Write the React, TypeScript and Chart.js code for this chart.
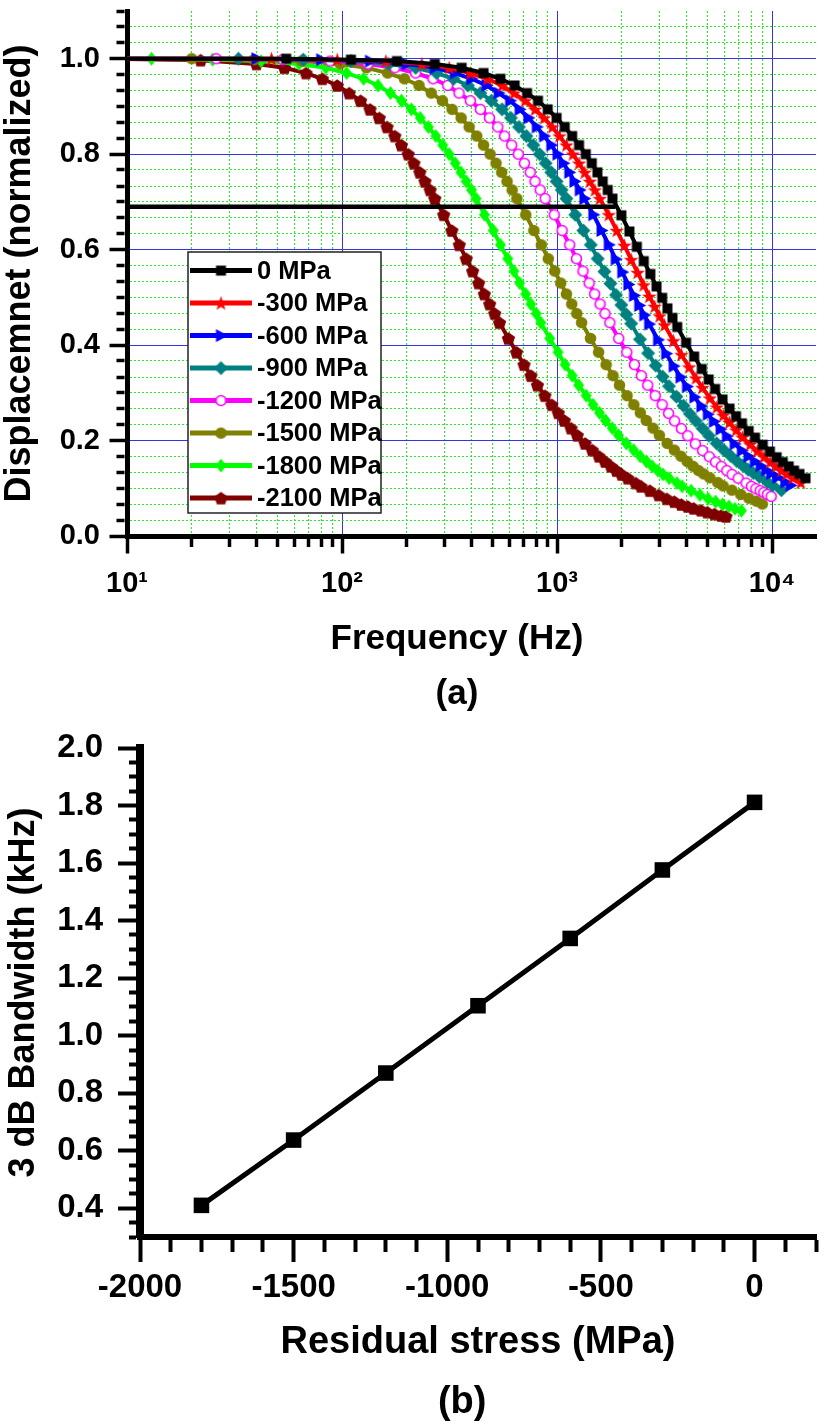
import React, { useEffect, useRef } from 'react';
import { Chart, registerables } from 'chart.js';

Chart.register(...registerables);

// ---------- (a) normalized displacement vs frequency, one curve per residual stress
const STRESS_LABELS = ['0 MPa', '-300 MPa', '-600 MPa', '-900 MPa', '-1200 MPa', '-1500 MPa', '-1800 MPa', '-2100 MPa'];

const FREQ_0 = [8, 55, 110, 180, 270, 360, 455, 545, 635, 725, 815, 905, 995, 1085, 1175, 1265, 1360, 1450, 1540, 1630, 1720, 1810, 1990, 2170, 2350, 2530, 2715, 2900, 3080, 3260, 3440, 3620, 3980, 4340, 4710, 5070, 5430, 5880, 6340, 6790, 7240, 7780, 8330, 9050, 9770, 10500, 11200, 11950, 12650, 13400, 14300];
const DISP_0 = [1.0, 1.0, 0.998, 0.995, 0.989, 0.981, 0.970, 0.958, 0.944, 0.928, 0.912, 0.894, 0.876, 0.857, 0.838, 0.819, 0.800, 0.781, 0.762, 0.743, 0.725, 0.707, 0.672, 0.638, 0.606, 0.576, 0.549, 0.523, 0.499, 0.477, 0.457, 0.438, 0.405, 0.376, 0.350, 0.328, 0.308, 0.286, 0.267, 0.251, 0.236, 0.220, 0.206, 0.191, 0.177, 0.165, 0.155, 0.146, 0.137, 0.130, 0.121];

const FREQ_300 = [8, 47, 95, 160, 235, 315, 395, 475, 555, 630, 710, 790, 870, 950, 1025, 1105, 1185, 1265, 1345, 1420, 1500, 1580, 1740, 1895, 2055, 2210, 2370, 2530, 2685, 2845, 3000, 3160, 3475, 3790, 4110, 4425, 4740, 5135, 5530, 5925, 6320, 6795, 7270, 7900, 8530, 9165, 9795, 10430, 11060, 11690, 12480, 13590];
const DISP_300 = [1.0, 1.0, 0.998, 0.995, 0.989, 0.981, 0.970, 0.958, 0.944, 0.928, 0.912, 0.894, 0.876, 0.857, 0.838, 0.819, 0.800, 0.781, 0.762, 0.743, 0.725, 0.707, 0.673, 0.640, 0.609, 0.579, 0.552, 0.526, 0.502, 0.481, 0.461, 0.442, 0.409, 0.380, 0.354, 0.331, 0.311, 0.289, 0.270, 0.253, 0.238, 0.222, 0.207, 0.192, 0.178, 0.166, 0.155, 0.146, 0.137, 0.130, 0.122, 0.112];

const FREQ_600 = [8, 40, 80, 135, 200, 270, 335, 400, 470, 535, 605, 670, 735, 805, 870, 940, 1005, 1070, 1140, 1205, 1275, 1340, 1475, 1610, 1740, 1875, 2010, 2145, 2280, 2410, 2545, 2680, 2950, 3215, 3485, 3750, 4020, 4355, 4690, 5025, 5360, 5760, 6165, 6700, 7235, 7770, 8310, 8845, 9380, 9915, 10590, 11525, 12190];
const DISP_600 = [1.0, 1.0, 0.998, 0.995, 0.989, 0.981, 0.970, 0.958, 0.944, 0.928, 0.912, 0.894, 0.876, 0.857, 0.838, 0.819, 0.800, 0.781, 0.762, 0.743, 0.725, 0.707, 0.673, 0.640, 0.610, 0.580, 0.553, 0.527, 0.504, 0.483, 0.463, 0.444, 0.411, 0.382, 0.356, 0.333, 0.313, 0.291, 0.272, 0.255, 0.240, 0.224, 0.209, 0.193, 0.179, 0.167, 0.156, 0.147, 0.138, 0.131, 0.123, 0.113, 0.106];

const FREQ_900 = [8, 33, 66, 110, 165, 220, 275, 330, 385, 440, 495, 555, 610, 665, 720, 775, 830, 885, 940, 995, 1050, 1105, 1215, 1325, 1435, 1545, 1660, 1770, 1880, 1990, 2100, 2210, 2430, 2650, 2875, 3095, 3315, 3590, 3870, 4145, 4420, 4750, 5085, 5525, 5965, 6410, 6850, 7295, 7735, 8175, 8730, 9505, 10055, 11050];
const DISP_900 = [1.0, 1.0, 0.998, 0.995, 0.989, 0.981, 0.970, 0.958, 0.944, 0.928, 0.912, 0.894, 0.876, 0.857, 0.838, 0.819, 0.800, 0.781, 0.762, 0.743, 0.725, 0.707, 0.673, 0.640, 0.610, 0.581, 0.554, 0.529, 0.505, 0.484, 0.464, 0.445, 0.412, 0.383, 0.357, 0.334, 0.314, 0.292, 0.273, 0.256, 0.241, 0.225, 0.210, 0.194, 0.180, 0.168, 0.157, 0.148, 0.139, 0.132, 0.124, 0.113, 0.106, 0.096];

const FREQ_1200 = [8, 26, 53, 88, 132, 176, 220, 265, 310, 350, 395, 440, 485, 530, 570, 615, 660, 705, 750, 790, 835, 880, 970, 1055, 1145, 1230, 1320, 1410, 1495, 1585, 1670, 1760, 1935, 2110, 2290, 2465, 2640, 2860, 3080, 3300, 3520, 3785, 4050, 4400, 4750, 5105, 5455, 5810, 6160, 6510, 6950, 7570, 8010, 8400, 8800, 9150, 9500, 9900];
const DISP_1200 = [1.0, 1.0, 0.998, 0.995, 0.989, 0.981, 0.970, 0.958, 0.944, 0.928, 0.912, 0.894, 0.876, 0.857, 0.838, 0.819, 0.800, 0.781, 0.762, 0.743, 0.725, 0.707, 0.673, 0.640, 0.610, 0.581, 0.555, 0.530, 0.507, 0.486, 0.466, 0.447, 0.414, 0.385, 0.359, 0.336, 0.316, 0.294, 0.275, 0.257, 0.241, 0.225, 0.210, 0.193, 0.179, 0.166, 0.155, 0.146, 0.137, 0.129, 0.121, 0.111, 0.104, 0.099, 0.095, 0.091, 0.087, 0.083];

const FREQ_1500 = [8, 20, 39, 65, 98, 130, 163, 195, 228, 260, 293, 325, 358, 390, 423, 455, 488, 520, 553, 585, 618, 650, 715, 780, 845, 910, 975, 1040, 1105, 1170, 1235, 1300, 1430, 1560, 1690, 1820, 1950, 2115, 2275, 2440, 2600, 2795, 2990, 3250, 3510, 3770, 4030, 4290, 4550, 4810, 5135, 5590, 5915, 6500, 7150, 7800, 8450, 9000];
const DISP_1500 = [1.0, 1.0, 0.998, 0.995, 0.989, 0.981, 0.970, 0.958, 0.944, 0.928, 0.912, 0.894, 0.876, 0.857, 0.838, 0.819, 0.800, 0.781, 0.762, 0.743, 0.725, 0.707, 0.673, 0.640, 0.610, 0.581, 0.555, 0.530, 0.507, 0.486, 0.466, 0.447, 0.414, 0.385, 0.359, 0.336, 0.316, 0.294, 0.275, 0.258, 0.242, 0.226, 0.211, 0.194, 0.180, 0.167, 0.156, 0.146, 0.137, 0.130, 0.122, 0.112, 0.105, 0.096, 0.087, 0.079, 0.073, 0.067];

const FREQ_1800 = [8, 13, 25, 42, 63, 84, 105, 126, 147, 168, 189, 210, 231, 252, 273, 294, 315, 336, 357, 378, 400, 420, 460, 505, 545, 590, 630, 670, 715, 755, 800, 840, 925, 1010, 1090, 1175, 1260, 1365, 1470, 1575, 1680, 1805, 1930, 2100, 2270, 2435, 2605, 2770, 2940, 3110, 3320, 3610, 3820, 4200, 4620, 5040, 5460, 5880, 6300, 6720, 7200];
const DISP_1800 = [1.0, 1.0, 0.998, 0.995, 0.989, 0.981, 0.970, 0.958, 0.944, 0.928, 0.912, 0.894, 0.876, 0.857, 0.838, 0.819, 0.800, 0.781, 0.762, 0.743, 0.725, 0.707, 0.673, 0.640, 0.610, 0.581, 0.555, 0.530, 0.507, 0.486, 0.466, 0.447, 0.414, 0.385, 0.359, 0.336, 0.316, 0.294, 0.275, 0.258, 0.242, 0.226, 0.211, 0.194, 0.180, 0.167, 0.156, 0.146, 0.137, 0.129, 0.121, 0.111, 0.104, 0.095, 0.086, 0.078, 0.072, 0.066, 0.062, 0.057, 0.053];

const FREQ_2100 = [8, 22, 40, 54, 68, 81, 95, 108, 122, 135, 149, 162, 176, 189, 203, 216, 230, 243, 257, 270, 297, 324, 351, 378, 405, 432, 459, 486, 513, 540, 594, 648, 702, 756, 810, 878, 945, 1013, 1080, 1161, 1242, 1350, 1458, 1566, 1674, 1782, 1890, 1998, 2133, 2322, 2457, 2700, 2970, 3240, 3510, 3780, 4050, 4320, 4670, 5000, 5400, 5800, 6100];
const DISP_2100 = [1.0, 0.997, 0.989, 0.981, 0.970, 0.958, 0.944, 0.928, 0.912, 0.894, 0.876, 0.857, 0.838, 0.819, 0.800, 0.781, 0.762, 0.743, 0.725, 0.707, 0.673, 0.640, 0.610, 0.581, 0.555, 0.530, 0.507, 0.486, 0.466, 0.447, 0.414, 0.385, 0.359, 0.336, 0.316, 0.294, 0.275, 0.258, 0.242, 0.226, 0.211, 0.194, 0.180, 0.167, 0.156, 0.146, 0.137, 0.129, 0.121, 0.111, 0.104, 0.095, 0.086, 0.078, 0.072, 0.066, 0.062, 0.058, 0.054, 0.050, 0.046, 0.043, 0.041];

// horizontal -3 dB marker line
const CUTOFF_LEVEL = 0.69;
const CUTOFF_FREQ = [10, 1870];

// ---------- (b) 3 dB bandwidth vs residual stress
const STRESS = [-1800, -1500, -1200, -900, -600, -300, 0];
const BANDWIDTH = [0.41, 0.637, 0.87, 1.104, 1.338, 1.576, 1.811];

// tick labels
const FREQ_TICKS = [10, 100, 1000, 10000];
const FREQ_TICK_TEXT = ['10\u00b9', '10\u00b2', '10\u00b3', '10\u2074'];
const DISP_TICKS = [0, 0.2, 0.4, 0.6, 0.8, 1.0];
const STRESS_TICKS = [-2000, -1500, -1000, -500, 0];
const BW_TICKS = [0.4, 0.6, 0.8, 1.0, 1.2, 1.4, 1.6, 1.8, 2.0];

const FONT = "'Liberation Sans', Arial, Helvetica, sans-serif";
const BLUE = '#3434e4';
const GREEN = '#22ee22';

const CURVE_STYLE = [
  { color: '#000000', marker: 'square' },
  { color: '#ff0000', marker: 'star' },
  { color: '#0000ff', marker: 'triangle' },
  { color: '#008080', marker: 'diamond' },
  { color: '#ff00ff', marker: 'ring' },
  { color: '#808000', marker: 'dot' },
  { color: '#00ff00', marker: 'lozenge' },
  { color: '#800000', marker: 'pentagon' },
];

Chart.defaults.font.family = FONT;
Chart.defaults.color = '#000';

const isOn = (list: number[], v: number) => list.some((t) => Math.abs(t - Number(v)) < 1e-6);

// small bitmap markers (Origin-like symbols), used both on the curves and in the legend
function makeMarker(kind: string, color: string): HTMLCanvasElement {
  const c = document.createElement('canvas');
  c.width = 17;
  c.height = 17;
  const g = c.getContext('2d') as CanvasRenderingContext2D;
  const m = 8.5;
  g.fillStyle = color;
  g.strokeStyle = color;
  g.beginPath();
  if (kind === 'square') {
    g.rect(m - 5, m - 5, 10, 10);
  } else if (kind === 'star' || kind === 'pentagon') {
    const n = kind === 'star' ? 10 : 5;
    for (let i = 0; i < n; i++) {
      const a = -Math.PI / 2 + (i * 2 * Math.PI) / n;
      const r = kind === 'star' ? (i % 2 ? 3.1 : 7.6) : 7;
      const px = m + r * Math.cos(a);
      const py = m + 0.7 + r * Math.sin(a);
      if (i === 0) g.moveTo(px, py);
      else g.lineTo(px, py);
    }
    g.closePath();
  } else if (kind === 'triangle') {
    g.moveTo(m - 5, m - 6.5);
    g.lineTo(m + 7, m);
    g.lineTo(m - 5, m + 6.5);
    g.closePath();
  } else if (kind === 'diamond' || kind === 'lozenge') {
    const hw = kind === 'diamond' ? 7 : 5.5;
    g.moveTo(m, m - 7);
    g.lineTo(m + hw, m);
    g.lineTo(m, m + 7);
    g.lineTo(m - hw, m);
    g.closePath();
  } else {
    g.arc(m, m, kind === 'ring' ? 5 : 5.8, 0, Math.PI * 2);
  }
  if (kind === 'ring') {
    g.fillStyle = '#ffffff';
    g.fill();
    g.lineWidth = 1.6;
    g.stroke();
  } else {
    g.fill();
  }
  return c;
}

const FrequencyResponseChart: React.FC = () => {
  const canvasRef = useRef<HTMLCanvasElement>(null);

  useEffect(() => {
    if (!canvasRef.current) return;
    const markers = CURVE_STYLE.map((s) => makeMarker(s.marker, s.color));
    const curves = [
      [FREQ_0, DISP_0], [FREQ_300, DISP_300], [FREQ_600, DISP_600], [FREQ_900, DISP_900],
      [FREQ_1200, DISP_1200], [FREQ_1500, DISP_1500], [FREQ_1800, DISP_1800], [FREQ_2100, DISP_2100],
    ];

    const freqTicks: number[] = [];
    [10, 100, 1000].forEach((d) => { for (let k = 1; k <= 9; k++) freqTicks.push(k * d); });
    freqTicks.push(10000);
    // 5 minor ticks between labelled ticks
    const dispTicks: number[] = [];
    for (let i = 0; i <= 33; i++) dispTicks.push(Math.round((i * 1000) / 30) / 1000);

    const datasets: any[] = [
      {
        label: 'cutoff',
        data: CUTOFF_FREQ.map((f) => ({ x: f, y: CUTOFF_LEVEL })),
        borderColor: '#000',
        borderWidth: 4.5,
        pointRadius: 0,
      },
      ...curves.map(([fx, dy], i) => ({
        label: STRESS_LABELS[i],
        data: fx.map((f, j) => ({ x: f, y: dy[j] })).filter((p) => p.y !== undefined),
        borderColor: CURVE_STYLE[i].color,
        backgroundColor: CURVE_STYLE[i].color,
        borderWidth: 4,
        pointStyle: markers[i],
        pointRadius: 7,
      })),
    ];

    // boxed legend placed inside the plot like the original
    const legendBox = {
      id: 'legendBox',
      afterDraw(chart: any) {
        const { ctx, chartArea } = chart;
        const x0 = chartArea.left + 61;
        const y0 = chartArea.top + 241;
        const w = 193;
        const h = 261;
        ctx.save();
        ctx.fillStyle = '#ffffff';
        ctx.fillRect(x0, y0, w, h);
        ctx.lineWidth = 1.5;
        ctx.strokeStyle = '#222';
        ctx.strokeRect(x0, y0, w, h);
        ctx.font = `bold 25.5px ${FONT}`;
        ctx.textBaseline = 'middle';
        ctx.textAlign = 'left';
        STRESS_LABELS.forEach((label, i) => {
          const cy = y0 + 18.6 + i * 32.5;
          ctx.strokeStyle = CURVE_STYLE[i].color;
          ctx.lineWidth = 5;
          ctx.beginPath();
          ctx.moveTo(x0 + 2, cy);
          ctx.lineTo(x0 + 64, cy);
          ctx.stroke();
          const mk = markers[i];
          ctx.drawImage(mk, x0 + 33 - mk.width / 2, cy - mk.height / 2);
          ctx.fillStyle = '#000';
          ctx.fillText(label, x0 + 69, cy + 1);
        });
        ctx.restore();
      },
    };

    const chart = new Chart(canvasRef.current, {
      type: 'line',
      data: { datasets },
      options: {
        animation: false,
        responsive: true,
        maintainAspectRatio: false,
        events: [],
        layout: { padding: { left: 0, right: 4, top: 5, bottom: 0 } },
        plugins: { legend: { display: false }, tooltip: { enabled: false } },
        scales: {
          x: {
            type: 'logarithmic',
            min: 10,
            max: 16000,
            afterBuildTicks: (s: any) => { s.ticks = freqTicks.map((v) => ({ value: v })); },
            afterFit: (s: any) => { s.height = 186; s.paddingLeft = 0; s.paddingRight = 0; },
            grid: {
              color: (c: any) => (c.tick && !isOn(FREQ_TICKS, c.tick.value) ? GREEN : BLUE),
              lineWidth: 1,
              tickLength: 17.5,
              tickWidth: 3.5,
              tickColor: '#000',
              tickBorderDash: (c: any) => (c.tick && !isOn(FREQ_TICKS, c.tick.value) ? [8, 100] : []),
            },
            border: {
              display: true,
              color: '#000',
              width: 5,
              dash: (c: any) => (c.tick && !isOn(FREQ_TICKS, c.tick.value) ? [2, 2] : []),
            },
            ticks: {
              autoSkip: false,
              maxRotation: 0,
              minRotation: 0,
              padding: 13,
              color: '#000',
              font: { family: FONT, size: 29, weight: 'bold' },
              callback: (v: any) => {
                const i = FREQ_TICKS.indexOf(Number(v));
                return i >= 0 ? FREQ_TICK_TEXT[i] : [];
              },
            },
            title: {
              display: true,
              text: ['Frequency (Hz)   ', '(a)   '],
              color: '#000',
              font: { family: FONT, size: 35, weight: 'bold', lineHeight: '55px' },
              padding: { top: 0, bottom: 0 },
            },
          },
          y: {
            type: 'linear',
            min: 0,
            max: 1.1,
            afterBuildTicks: (s: any) => { s.ticks = dispTicks.map((v) => ({ value: v })); },
            afterFit: (s: any) => { s.width = 127; s.paddingTop = 0; s.paddingBottom = 0; },
            grid: {
              color: (c: any) => {
                if (!c.tick) return BLUE;
                if (c.tick.value > 1.09) return 'rgba(0,0,0,0)';
                return isOn(DISP_TICKS, c.tick.value) ? BLUE : GREEN;
              },
              lineWidth: 1,
              tickLength: 17.5,
              tickWidth: 3.5,
              tickColor: '#000',
              tickBorderDash: (c: any) => (c.tick && !isOn(DISP_TICKS, c.tick.value) ? [0, 7, 8, 100] : []),
            },
            border: {
              display: true,
              color: '#000',
              width: 5,
              dash: (c: any) => (c.tick && !isOn(DISP_TICKS, c.tick.value) ? [2, 2] : []),
            },
            ticks: {
              autoSkip: false,
              padding: 9.5,
              color: '#000',
              font: { family: FONT, size: 29, weight: 'bold' },
              callback: (v: any) => (isOn(DISP_TICKS, v) ? Number(v).toFixed(1) : []),
            },
            title: {
              display: true,
              text: 'Displacemnet (normalized)',
              color: '#000',
              font: { family: FONT, size: 36, weight: 'bold', lineHeight: 1.1 },
              padding: { top: 0, bottom: 0 },
            },
          },
        },
      } as any,
      plugins: [legendBox],
    });

    return () => chart.destroy();
  }, []);

  return <canvas ref={canvasRef} />;
};

const BandwidthChart: React.FC = () => {
  const canvasRef = useRef<HTMLCanvasElement>(null);

  useEffect(() => {
    if (!canvasRef.current) return;
    const stressTicks: number[] = [];
    for (let i = -20; i <= 2; i++) stressTicks.push(i * 100);
    const bwTicks: number[] = [];
    for (let i = 6; i <= 40; i++) bwTicks.push(Math.round(i * 5) / 100);

    const chart = new Chart(canvasRef.current, {
      type: 'line',
      data: {
        datasets: [
          {
            label: '3 dB bandwidth',
            data: STRESS.map((s, i) => ({ x: s, y: BANDWIDTH[i] })),
            borderColor: '#000',
            backgroundColor: '#000',
            borderWidth: 5,
            pointStyle: 'rect',
            pointRadius: 11,
            pointBorderWidth: 0,
          },
        ],
      },
      options: {
        animation: false,
        responsive: true,
        maintainAspectRatio: false,
        events: [],
        layout: { padding: { left: 0, right: 8, top: 26, bottom: 0 } },
        plugins: { legend: { display: false }, tooltip: { enabled: false } },
        scales: {
          x: {
            type: 'linear',
            min: -2000,
            max: 200,
            afterBuildTicks: (s: any) => { s.ticks = stressTicks.map((v) => ({ value: v })); },
            afterFit: (s: any) => { s.height = 191; s.paddingLeft = 0; s.paddingRight = 0; },
            grid: {
              drawOnChartArea: false,
              tickLength: 25,
              tickWidth: 4,
              tickColor: '#000',
              tickBorderDash: (c: any) => (c.tick && !isOn(STRESS_TICKS, c.tick.value) ? [12, 100] : []),
            },
            border: { display: true, color: '#000', width: 6 },
            ticks: {
              autoSkip: false,
              maxRotation: 0,
              minRotation: 0,
              padding: 6,
              color: '#000',
              font: { family: FONT, size: 33, weight: 'bold' },
              callback: (v: any) => (isOn(STRESS_TICKS, v) ? String(Math.round(Number(v))) : []),
            },
            title: {
              display: true,
              text: ['Residual stress (MPa)', '(b)   '],
              color: '#000',
              font: { family: FONT, size: 38, weight: 'bold', lineHeight: '60px' },
              padding: { top: 0, bottom: -5 },
            },
          },
          y: {
            type: 'linear',
            min: 0.3,
            max: 2.0,
            afterBuildTicks: (s: any) => { s.ticks = bwTicks.map((v) => ({ value: v })); },
            afterFit: (s: any) => { s.width = 140; s.paddingTop = 0; s.paddingBottom = 0; },
            grid: {
              drawOnChartArea: false,
              tickLength: 22,
              tickWidth: 4,
              tickColor: '#000',
              tickBorderDash: (c: any) => (c.tick && !isOn(BW_TICKS, c.tick.value) ? [0, 11, 7, 100] : []),
            },
            border: { display: true, color: '#000', width: 8 },
            ticks: {
              autoSkip: false,
              padding: 15,
              color: '#000',
              font: { family: FONT, size: 33, weight: 'bold' },
              callback: (v: any) => (isOn(BW_TICKS, v) ? Number(v).toFixed(1) : []),
            },
            title: {
              display: true,
              text: '3 dB Bandwidth (kHz)',
              color: '#000',
              font: { family: FONT, size: 36, weight: 'bold', lineHeight: 1.1 },
              padding: { top: 4, bottom: 0 },
            },
          },
        },
      } as any,
    });

    return () => chart.destroy();
  }, []);

  return <canvas ref={canvasRef} />;
};

export default function App() {
  return (
    <div style={{ position: 'absolute', left: 0, top: 0, width: 827, height: 1428, overflow: 'hidden', background: '#fff' }}>
      <div style={{ position: 'absolute', left: 0, top: 0, width: 827, height: 722 }}>
        <FrequencyResponseChart />
      </div>
      <div style={{ position: 'absolute', left: 0, top: 722, width: 827, height: 706 }}>
        <BandwidthChart />
      </div>
    </div>
  );
}
